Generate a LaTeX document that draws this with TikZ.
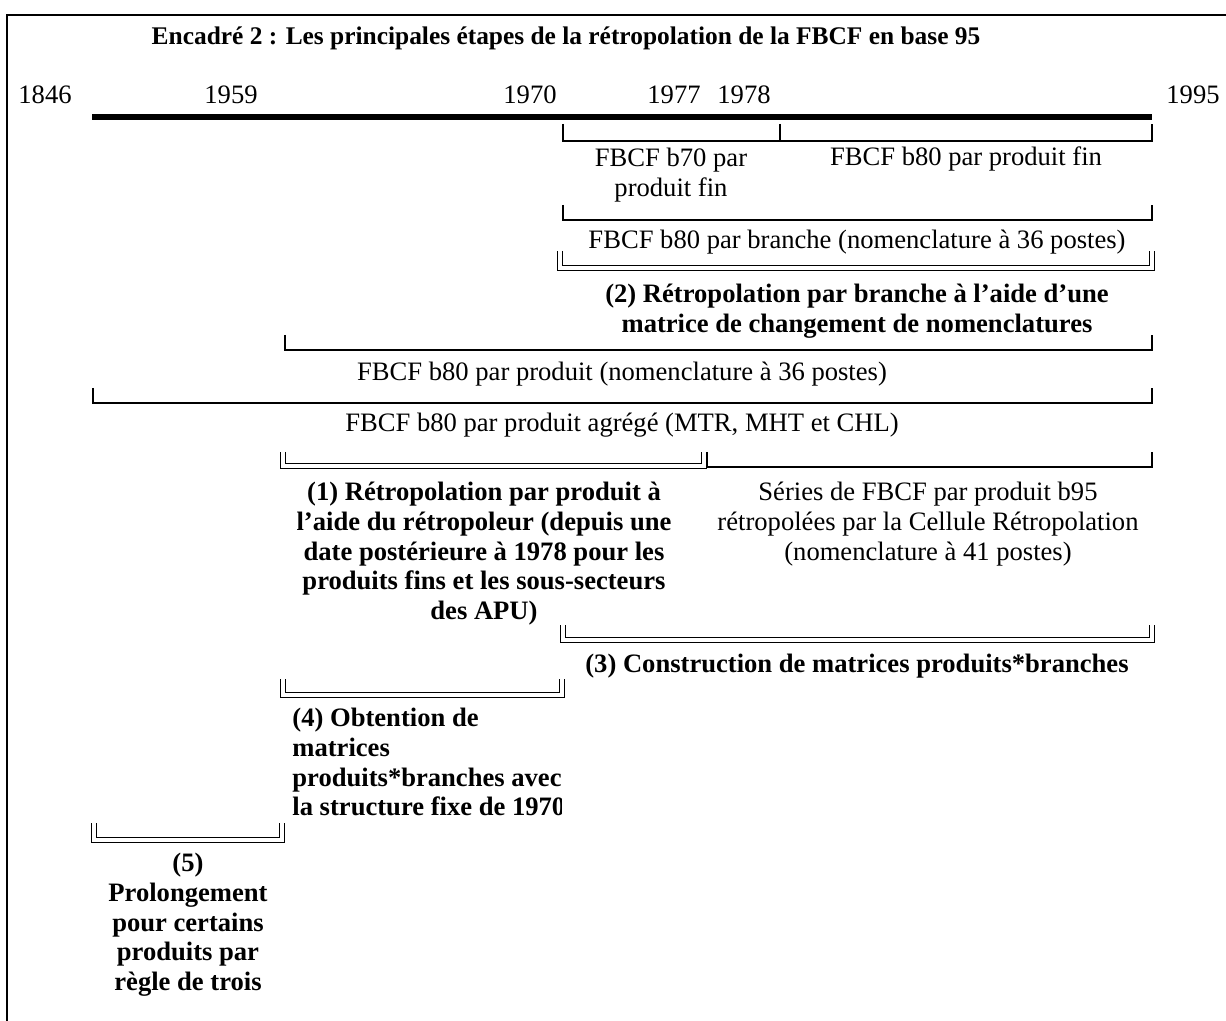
\documentclass[tikz,border=0pt]{standalone}
\usepackage{fontspec}
\setmainfont{Liberation Serif}

\begin{document}
\begin{tikzpicture}[x=0.5pt,y=-0.5pt,
    txt/.style={inner sep=0pt,align=center,font=\fontsize{13.3}{14.8}\selectfont},
    btxt/.style={txt,font=\fontsize{13.3}{14.8}\selectfont\bfseries},
    seg/.style={line width=0.9pt},
    dseg/.style={double,line width=0.8pt,double distance=1.6pt}]
    \useasboundingbox (0,0) rectangle (1226,1021);

    \draw[line width=1pt] (7,1021) -- (7,15) -- (1226,15);

    \node[btxt,anchor=base,font=\fontsize{12.7}{14.8}\selectfont\bfseries] (title) at (566,45) {Encadré 2 : Les principales étapes de la rétropolation de la FBCF en base 95};

    \coordinate (tstart) at (92,117);
    \coordinate (tend) at (1152,117);
    \draw[line width=2.8pt] (tstart) -- (tend);

    \node[txt,anchor=base] (y1846) at (45,104) {1846};
    \node[txt,anchor=base] (y1959) at (231,104) {1959};
    \node[txt,anchor=base] (y1970) at (530,104) {1970};
    \node[txt,anchor=base] (y1977) at (674,104) {1977};
    \node[txt,anchor=base] (y1978) at (744,104) {1978};
    \node[txt,anchor=base] (y1995) at (1193,104) {1995};

    \draw[seg] (563,124) -- (563,141) -- (1152,141) -- (1152,124);
    \draw[seg] (780,124) -- (780,141);
    \node[txt,anchor=north] (bseventy) at (671,148) {FBCF b70 par\\produit fin};
    \node[txt,anchor=base] (beightyfin) at (966,166) {FBCF b80 par produit fin};

    \draw[seg] (563,205) -- (563,220) -- (1152,220) -- (1152,205);
    \node[txt,anchor=base] (branche) at (857,249) {FBCF b80 par branche (nomenclature à 36 postes)};

    \draw[dseg] (560,251) -- (560,268) -- (1152,268) -- (1152,251);
    \node[btxt,anchor=north] (etape2) at (857,284) {(2) Rétropolation par branche à l’aide d’une\\matrice de changement de nomenclatures};

    \draw[seg] (285,335) -- (285,350) -- (1152,350) -- (1152,335);
    \node[txt,anchor=base] (produit) at (622,381) {FBCF b80 par produit (nomenclature à 36 postes)};

    \draw[seg] (93,388) -- (93,403) -- (1152,403) -- (1152,388);
    \node[txt,anchor=base] (agrege) at (622,431) {FBCF b80 par produit agrégé (MTR, MHT et CHL)};

    \draw[dseg] (283,452) -- (283,466) -- (704,466) -- (704,452);
    \draw[seg] (707,452) -- (707,467) -- (1152,467) -- (1152,452);
    \node[btxt,anchor=north] (etape1) at (484,482) {(1) Rétropolation par produit à\\l’aide du rétropoleur (depuis une\\date postérieure à 1978 pour les\\produits fins et les sous-secteurs\\des APU)};
    \node[txt,anchor=north] (series) at (928,482) {Séries de FBCF par produit b95\\rétropolées par la Cellule Rétropolation\\(nomenclature à 41 postes)};

    \draw[dseg] (563,625) -- (563,640) -- (1152,640) -- (1152,625);
    \node[btxt,anchor=base] (etape3) at (857,672) {(3) Construction de matrices produits*branches};

    \draw[dseg] (283,679) -- (283,695) -- (562,695) -- (562,679);
    \begin{scope}
      \clip (283,700) rectangle (561,840);
      \node[btxt,anchor=north west,align=left] (etape4) at (292,708) {(4) Obtention de\\matrices\\produits*branches avec\\la structure fixe de 1970};
    \end{scope}

    \draw[dseg] (94,823) -- (94,840) -- (282,840) -- (282,823);
    \node[btxt,anchor=north] (etape5) at (188,853) {(5)\\Prolongement\\pour certains\\produits par\\règle de trois};

  \end{tikzpicture}
\end{document}
